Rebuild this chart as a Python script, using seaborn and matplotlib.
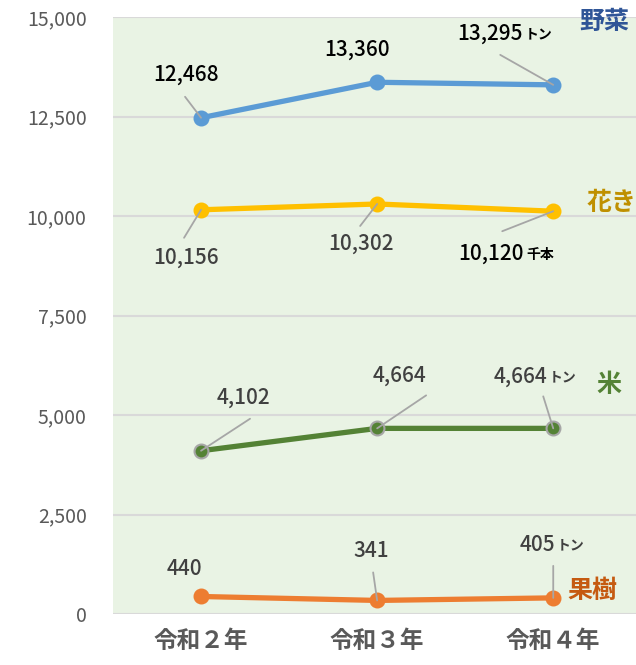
import numpy as np
import pandas as pd
import matplotlib
matplotlib.use('Agg')
import matplotlib.pyplot as plt
import seaborn as sns

years = ['令和２年', '令和３年', '令和４年']
yasai = [12468, 13360, 13295]
kaki = [10156, 10302, 10120]
kome = [4102, 4664, 4664]
kaju = [440, 341, 405]

names = ['野菜', '花き', '米', '果樹']
units = ['トン', '千本', 'トン', 'トン']
values = [yasai, kaki, kome, kaju]
line_colors = ['#5b9bd5', '#ffc000', '#548235', '#ed7d31']
name_colors = ['#2f5597', '#bf9000', '#548235', '#c55a11']
label_colors = ['#000000', '#404040', '#404040', '#404040']

sns.set_style('white')
plt.rcParams['font.family'] = ['Noto Sans CJK JP', 'DejaVu Sans']

# label offsets in pixels from each point: (text dx, dy, leader dx, dy or None)
label_pos = [
    [(-15, 43, -16, 21), (-20, 33, None, None), (-30, 51, -53, 30)],
    [(-15, -48, -17, -28), (-16, -40, -17, -22), (-29, -43, -51, -20)],
    [(42, 53, 49, 32), (22, 53, 49, 33), (-6, 52, -10, 32)],
    [(-17, 27, None, None), (-6, 49, -4, 28), (2, 53, 0, 32)],
]
name_pos = [(51, 63), (58, 8), (56, 43), (39, 7)]

fig = plt.figure(figsize=(6.36, 6.65), dpi=100)
ax = fig.add_axes([113 / 636, 51 / 665, 523 / 636, 597 / 665])
ax.set_facecolor('#e9f3e4')

for s, (nm, vals) in enumerate(zip(names, values)):
    edge = '#a6a6a6' if nm == '米' else line_colors[s]
    sns.lineplot(x=years, y=vals, ax=ax, color=line_colors[s], linewidth=3.8, marker='o',
                 markersize=10, markeredgecolor=edge, markeredgewidth=1.5, zorder=3)
    for i, v in enumerate(vals):
        tx, ty, lx, ly = label_pos[s][i]
        txt = f'{v:,}'
        col = '#000000' if s == 1 and i == 2 else label_colors[s]
        if i == 2:
            ax.annotate(txt, (i, v), xytext=(tx, ty), textcoords='offset pixels', ha='right',
                        va='center', fontsize=15, color=col, fontweight='medium', zorder=5)
            ax.annotate(units[s], (i, v), xytext=(tx + 2, ty - 1), textcoords='offset pixels',
                        ha='left', va='center', fontsize=10, color=col, fontweight='bold', zorder=5)
        else:
            ax.annotate(txt, (i, v), xytext=(tx, ty), textcoords='offset pixels', ha='center',
                        va='center', fontsize=15, color=col, fontweight='medium', zorder=5)
        if lx is not None:
            ax.annotate('', (i, v), xytext=(lx, ly), textcoords='offset pixels',
                        arrowprops=dict(arrowstyle='-', color='#a6a6a6', lw=1.3,
                                        shrinkA=0, shrinkB=0), zorder=4)
    ax.annotate(nm, (2, vals[2]), xytext=name_pos[s], textcoords='offset pixels', ha='center',
                va='center', fontsize=18, fontweight='bold', color=name_colors[s], zorder=5)

ax.set_xlim(-0.5, 2.47)
ax.set_ylim(0, 15000)
ax.set_yticks(np.arange(0, 15001, 2500))
ax.set_yticklabels([f'{t:,}' for t in range(0, 15001, 2500)])
ax.grid(axis='y', color='#d9d9d9', linewidth=1.5)
ax.set_axisbelow(True)
for sp in ax.spines.values():
    sp.set_visible(False)
ax.tick_params(axis='y', length=0, labelsize=14, labelcolor='#595959', pad=19)
ax.tick_params(axis='x', length=0, labelsize=17, labelcolor='#595959', pad=11)
for lab in ax.get_xticklabels():
    lab.set_fontweight('bold')
ax.set_xlabel('')
ax.set_ylabel('')

fig.savefig('out.png', dpi=100)
